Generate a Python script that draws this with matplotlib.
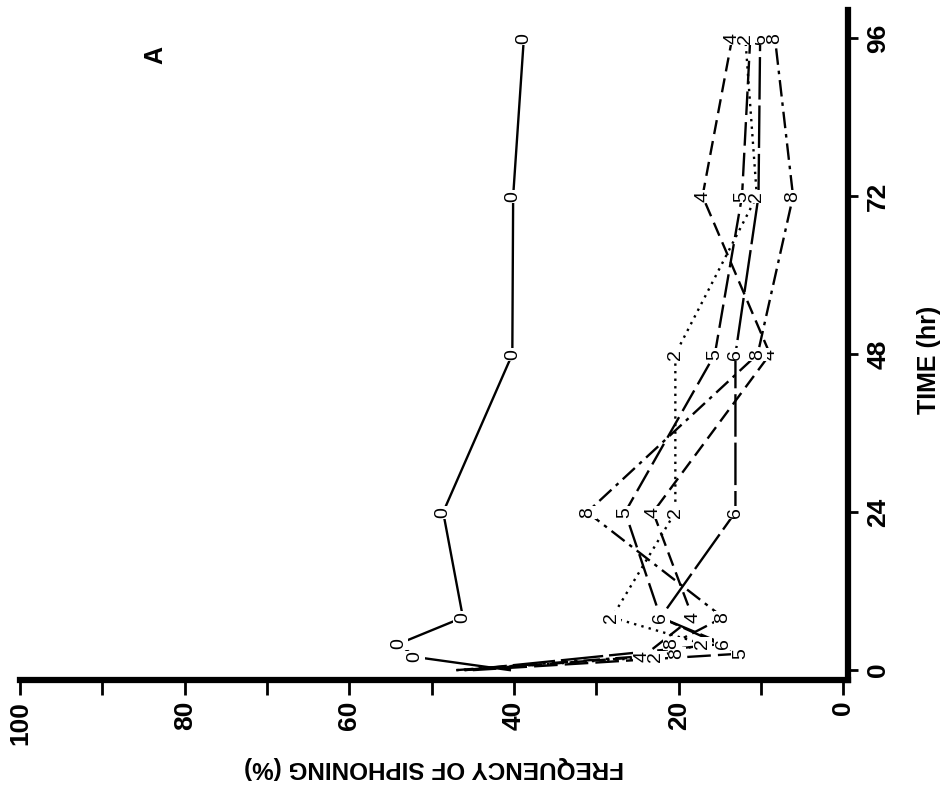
import numpy as np
import matplotlib
matplotlib.use('Agg')
import matplotlib.pyplot as plt
from matplotlib.ticker import MultipleLocator

plt.rcParams['font.family'] = ['Liberation Sans', 'DejaVu Sans']

# frequency of siphoning (%) vs time (hr), one curve per group label
t_0 = [0, 2, 4, 8, 24, 48, 72, 96]
f_0 = [40.5, 52.0, 54.0, 46.2, 48.6, 40.2, 40.1, 38.8]

t_2 = [0, 2, 4, 8, 24, 48, 72, 96]
f_2 = [47.0, 22.8, 17.1, 28.1, 20.4, 20.4, 10.5, 11.9]

t_4 = [0, 2, 8, 24, 48, 72, 96]
f_4 = [46.0, 24.4, 18.3, 23.1, 8.9, 17.1, 13.5]

t_5 = [0, 2.5, 8, 24, 48, 72, 96]
f_5 = [45.0, 12.5, 22.2, 26.5, 15.6, 12.3, 11.3]

t_6 = [0, 4, 8, 24, 48, 72, 96]
f_6 = [46.0, 14.6, 22.2, 13.1, 13.1, 10.3, 10.1]

t_8 = [0, 2.5, 4, 8, 24, 48, 72, 96]
f_8 = [47.0, 20.2, 20.8, 14.6, 31.1, 10.4, 6.1, 8.3]

series = [
    ('0', t_0, f_0, '-', 3),
    ('5', t_5, f_5, (0, (10, 3)), 3),
    ('6', t_6, f_6, (0, (18, 2.5)), 3),
    ('2', t_2, f_2, (0, (1, 2.2)), 4),
    ('4', t_4, f_4, (0, (6, 3)), 3),
    ('8', t_8, f_8, (0, (7, 2.5, 1.5, 2.5)), 3),
]

fig = plt.figure(figsize=(9.52, 7.93), dpi=100)
ax = fig.add_axes([0.021, 0.1425, 0.87, 0.845])

for lab, t, f, ls, z in series:
    ax.plot(f, t, color='black', lw=1.7, ls=ls, zorder=2)
    for ti, fi in zip(t, f):
        if ti == 0:
            continue
        ax.text(fi, ti, lab, rotation=90, ha='center', va='center',
                fontsize=14, color='black', zorder=z,
                bbox=dict(boxstyle='square,pad=0.05', fc='white', ec='none'))

ax.set_xlim(100, -0.6)
ax.set_ylim(-1.5, 100.3)

for s in ['left', 'top']:
    ax.spines[s].set_visible(False)
ax.spines['bottom'].set_linewidth(4.5)
ax.spines['right'].set_linewidth(4.5)

ax.xaxis.set_major_locator(MultipleLocator(20))
ax.xaxis.set_minor_locator(MultipleLocator(10))
ax.set_yticks([0, 24, 48, 72, 96])
ax.yaxis.tick_right()
ax.tick_params(axis='x', which='both', direction='out', length=11, width=2,
               labelsize=19, pad=4, labelrotation=90)
ax.tick_params(axis='y', which='both', direction='out', length=7, width=2,
               labelsize=19, pad=6, labelrotation=90)
for tl in ax.get_xticklabels() + ax.get_yticklabels():
    tl.set_fontweight('bold')
for tl in ax.get_yticklabels():
    tl.set_va('center')

ax.set_xlabel('FREQUENCY OF SIPHONING (%)', fontsize=17.5, fontweight='bold',
              rotation=180)
ax.xaxis.set_label_coords(0.5, -0.113)
ax.yaxis.set_label_position('right')
ax.set_ylabel('TIME (hr)', fontsize=18, fontweight='bold', rotation=90)
ax.yaxis.set_label_coords(1.083, 0.478)

ax.text(83.6, 93.5, 'A', rotation=90, ha='center', va='center',
        fontsize=18, fontweight='bold')

fig.savefig('out.png', dpi=100)
